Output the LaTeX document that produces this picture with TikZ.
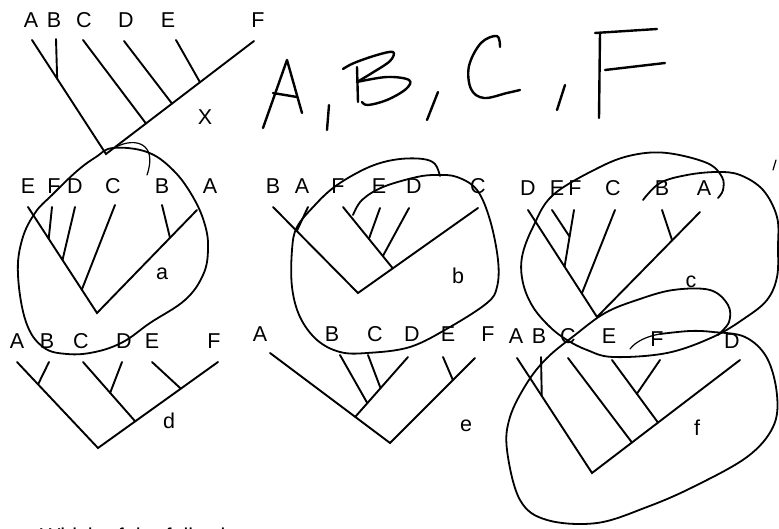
\documentclass[tikz,border=0pt]{standalone}
\usepackage{fontspec}
\setmainfont{Liberation Sans}
\usetikzlibrary{calc}
\begin{document}
\begin{tikzpicture}[x=1pt,y=-1pt,
  lbl/.style={font=\fontsize{21.5}{21.5}\selectfont, inner sep=0pt},
  branch/.style={line width=1.9pt, line cap=round},
  loopline/.style={line width=1.8pt, line cap=round},
  thinloop/.style={line width=1.2pt, line cap=round},
  hand/.style={line width=2.4pt, line cap=round, line join=round}]
\useasboundingbox (0,0) rectangle (779,529);
\clip (0,0) rectangle (779,529);

% ---------- top tree ----------
\node[lbl] (t0A) at (31,20) {A};
\node[lbl] (t0B) at (54,20) {B};
\node[lbl] (t0C) at (84,20) {C};
\node[lbl] (t0D) at (126,20) {D};
\node[lbl] (t0E) at (168,20) {E};
\node[lbl] (t0F) at (258,20) {F};
\node[lbl] (t0X) at (205,117) {X};
\coordinate (p0a) at (32,40);
\coordinate (p0b) at (56,39);
\coordinate (p0c) at (83,40);
\coordinate (p0d) at (124,41);
\coordinate (p0e) at (176,40);
\coordinate (p0f) at (254,41);
\coordinate (p0r) at (106,154);
\coordinate (j0ab) at ($(p0a)!0.34!(p0r)$);
\coordinate (j0c) at ($(p0f)!0.73!(p0r)$);
\coordinate (j0d) at ($(p0f)!0.554!(p0r)$);
\coordinate (j0e) at ($(p0f)!0.365!(p0r)$);
\draw[branch] (p0a) -- (p0r) -- (p0f);
\draw[branch] (p0b) -- (j0ab);
\draw[branch] (p0c) -- (j0c);
\draw[branch] (p0d) -- (j0d);
\draw[branch] (p0e) -- (j0e);

% ---------- handwritten answer ----------
\draw[hand] (263,128) -- (287,60) -- (302,113);
\draw[hand] (273,93) -- (297,97);
\draw[hand] (329,105) -- (327,130);
\draw[hand] (357,67) -- (358,102);
\draw[hand] plot[smooth, tension=0.6] coordinates {(343,69) (354,63) (377,55) (393,52) (390,61) (372,73) (357,82)};
\draw[hand] plot[smooth, tension=0.6] coordinates {(357,82) (387,77) (409,80) (406,89) (387,100) (368,105) (362,102)};
\draw[hand] (438,92) -- (427,120);
\draw[hand] plot[smooth, tension=0.6] coordinates {(500,47) (497,36) (481,43) (469,66) (471,89) (484,98) (507,93) (520,90)};
\draw[hand] (565,85) -- (557,110);
\draw[hand] (595,33) -- (657,29);
\draw[hand] (600,33) -- (599,118);
\draw[hand] (605,70) -- (665,63);

% ---------- tree a ----------
\node[lbl] (aE) at (28,186) {E};
\node[lbl] (aF) at (54,186) {F};
\node[lbl] (aD) at (75,186) {D};
\node[lbl] (aC) at (113,186) {C};
\node[lbl] (aB) at (162,186) {B};
\node[lbl] (aA) at (210,186) {A};
\node[lbl] (alab) at (162,274) {a};
\coordinate (pae) at (28,207);
\coordinate (paf) at (52,207);
\coordinate (pad) at (75,207);
\coordinate (pac) at (115,205);
\coordinate (pab) at (162,205);
\coordinate (paa) at (197,210);
\coordinate (par) at (97,313);
\coordinate (jaf) at ($(pae)!0.3!(par)$);
\coordinate (jad) at ($(pae)!0.5!(par)$);
\coordinate (jac) at ($(pae)!0.78!(par)$);
\coordinate (jab) at ($(paa)!0.27!(par)$);
\draw[branch] (pae) -- (par) -- (paa);
\draw[branch] (paf) -- (jaf);
\draw[branch] (pad) -- (jad);
\draw[branch] (pac) -- (jac);
\draw[branch] (pab) -- (jab);

% ---------- tree b ----------
\node[lbl] (bB) at (273,186) {B};
\node[lbl] (bA) at (302,186) {A};
\node[lbl] (bF) at (338,186) {F};
\node[lbl] (bE) at (379,186) {E};
\node[lbl] (bD) at (414,186) {D};
\node[lbl] (bC) at (478,186) {C};
\node[lbl] (blab) at (458,276) {b};
\coordinate (pbb) at (273,207);
\coordinate (pba) at (308,207);
\coordinate (pbf) at (343,207);
\coordinate (pbe) at (380,208);
\coordinate (pbd) at (409,208);
\coordinate (pbc) at (478,208);
\coordinate (pbr) at (358,293);
\coordinate (jba) at ($(pbb)!0.28!(pbr)$);
\coordinate (jbf) at ($(pbc)!0.71!(pbr)$);
\coordinate (jbe) at ($(pbf)!0.52!(jbf)$);
\coordinate (jbd) at ($(pbf)!0.8!(jbf)$);
\draw[branch] (pbb) -- (pbr) -- (pbc);
\draw[branch] (pba) -- (jba);
\draw[branch] (pbf) -- (jbf);
\draw[branch] (pbe) -- (jbe);
\draw[branch] (pbd) -- (jbd);

% ---------- tree c ----------
\node[lbl] (cD) at (528,188) {D};
\node[lbl] (cE) at (557,188) {E};
\node[lbl] (cF) at (575,188) {F};
\node[lbl] (cC) at (613,188) {C};
\node[lbl] (cB) at (662,188) {B};
\node[lbl] (cA) at (704,188) {A};
\node[lbl] (clab) at (691,282) {c};
\coordinate (pcd) at (528,210);
\coordinate (pce) at (552,210);
\coordinate (pcf) at (574,210);
\coordinate (pcc) at (615,210);
\coordinate (pcb) at (662,210);
\coordinate (pca) at (700,212);
\coordinate (pcr) at (597,317);
\coordinate (jcf) at ($(pcd)!0.53!(pcr)$);
\coordinate (jce) at ($(pcf)!0.47!(jcf)$);
\coordinate (jcc) at ($(pcd)!0.78!(pcr)$);
\coordinate (jcb) at ($(pca)!0.27!(pcr)$);
\draw[branch] (pcd) -- (pcr) -- (pca);
\draw[branch] (pcf) -- (jcf);
\draw[branch] (pce) -- (jce);
\draw[branch] (pcc) -- (jcc);
\draw[branch] (pcb) -- (jcb);

% ---------- tree d ----------
\node[lbl] (dA) at (17,341) {A};
\node[lbl] (dB) at (47,341) {B};
\node[lbl] (dC) at (81,341) {C};
\node[lbl] (dD) at (124,341) {D};
\node[lbl] (dE) at (152,341) {E};
\node[lbl] (dF) at (214,341) {F};
\node[lbl] (dlab) at (169,421) {d};
\coordinate (pda) at (17,362);
\coordinate (pdb) at (49,362);
\coordinate (pdc) at (83,362);
\coordinate (pdd) at (122,362);
\coordinate (pde) at (152,362);
\coordinate (pdf) at (218,362);
\coordinate (pdr) at (98,448);
\coordinate (jdb) at ($(pda)!0.26!(pdr)$);
\coordinate (jdc) at ($(pdf)!0.69!(pdr)$);
\coordinate (jdd) at ($(pdc)!0.52!(jdc)$);
\coordinate (jde) at ($(pdf)!0.31!(pdr)$);
\draw[branch] (pda) -- (pdr) -- (pdf);
\draw[branch] (pdb) -- (jdb);
\draw[branch] (pdc) -- (jdc);
\draw[branch] (pdd) -- (jdd);
\draw[branch] (pde) -- (jde);

% ---------- tree e ----------
\node[lbl] (eA) at (260,334) {A};
\node[lbl] (eB) at (332,334) {B};
\node[lbl] (eC) at (375,334) {C};
\node[lbl] (eD) at (412,334) {D};
\node[lbl] (eE) at (448,334) {E};
\node[lbl] (eF) at (488,334) {F};
\node[lbl] (elab) at (466,426) {e};
\coordinate (pea) at (270,353);
\coordinate (peb) at (340,355);
\coordinate (pec) at (368,355);
\coordinate (ped) at (408,357);
\coordinate (pee) at (443,357);
\coordinate (pef) at (475,358);
\coordinate (per) at (390,443);
\coordinate (jed) at ($(pea)!0.71!(per)$);
\coordinate (jeb) at ($(ped)!0.77!(jed)$);
\coordinate (jec) at ($(ped)!0.52!(jed)$);
\coordinate (jee) at ($(pef)!0.26!(per)$);
\draw[branch] (pea) -- (per) -- (pef);
\draw[branch] (ped) -- (jed);
\draw[branch] (peb) -- (jeb);
\draw[branch] (pec) -- (jec);
\draw[branch] (pee) -- (jee);

% ---------- tree f ----------
\node[lbl] (fA) at (516,336) {A};
\node[lbl] (fB) at (539,336) {B};
\node[lbl] (fC) at (568,336) {C};
\node[lbl] (fE) at (609,336) {E};
\node[lbl] (fF) at (657,339) {F};
\node[lbl] (fD) at (732,341) {D};
\node[lbl] (flab) at (697,428) {f};
\coordinate (pfa) at (517,358);
\coordinate (pfb) at (541,357);
\coordinate (pfc) at (568,358);
\coordinate (pfe) at (612,360);
\coordinate (pff) at (660,360);
\coordinate (pfd) at (740,360);
\coordinate (pfr) at (592,473);
\coordinate (jfb) at ($(pfa)!0.33!(pfr)$);
\coordinate (jfc) at ($(pfd)!0.73!(pfr)$);
\coordinate (jfe) at ($(pfd)!0.554!(pfr)$);
\coordinate (jff) at ($(pfe)!0.54!(jfe)$);
\draw[branch] (pfa) -- (pfr) -- (pfd);
\draw[branch] (pfb) -- (jfb);
\draw[branch] (pfc) -- (jfc);
\draw[branch] (pfe) -- (jfe);
\draw[branch] (pff) -- (jff);

% ---------- circled answers ----------
% loop a
\draw[loopline] plot[smooth cycle, tension=0.65] coordinates {
  (113,148) (147,152) (173,170) (193,197) (205,225) (208,250) (203,275)
  (185,300) (150,323) (123,342) (95,352) (67,354) (43,347) (26,322)
  (18,275) (22,240) (35,213) (52,195) (77,171) (96,157)};
\draw[thinloop] (116,147) .. controls (135,137) and (158,143) .. (147,175);
% loop b
\draw[loopline] plot[smooth, tension=0.6] coordinates {
  (353,215) (362,200) (383,187) (417,177) (437,175) (457,177) (477,190)
  (490,220) (498,260) (497,287) (487,303) (450,327) (410,347) (367,353)
  (340,352) (317,340) (300,317) (292,287) (292,250) (297,227) (315,205)
  (333,188) (355,174) (377,164) (400,159) (423,159) (435,164) (440,176)};
% loop c
\draw[loopline] plot[smooth, tension=0.6] coordinates {
  (718,198) (723,190) (722,177) (707,163) (667,153) (633,155) (600,167)
  (553,195) (533,227) (522,257) (523,283) (533,307) (550,327) (567,340)
  (587,350) (613,357) (667,353) (713,337) (745,318) (767,300) (777,277)
  (778,247) (777,217) (763,190) (740,175) (717,172) (687,175) (660,183)
  (643,200)};
% loop f (with upper lobe)
\draw[thinloop] (630,349) .. controls (636,341) and (648,336) .. (660,334);
\draw[loopline] plot[smooth, tension=0.6] coordinates {
  (660,334) (690,331) (713,332) (745,337) (767,358) (777,395) (773,427)
  (747,457) (693,487) (647,507) (597,523) (547,520) (520,500) (507,450)
  (510,417) (527,383) (547,358) (575,335) (605,313) (637,300) (673,290)
  (710,290) (728,305) (729,322) (718,335)};
\draw[thinloop] (776,160) -- (773,170);

% ---------- cut-off question (only its top shows, as in the source) ----------
\node[lbl, anchor=base west] (question) at (40,543) {Which of the following};
\end{tikzpicture}
\end{document}
